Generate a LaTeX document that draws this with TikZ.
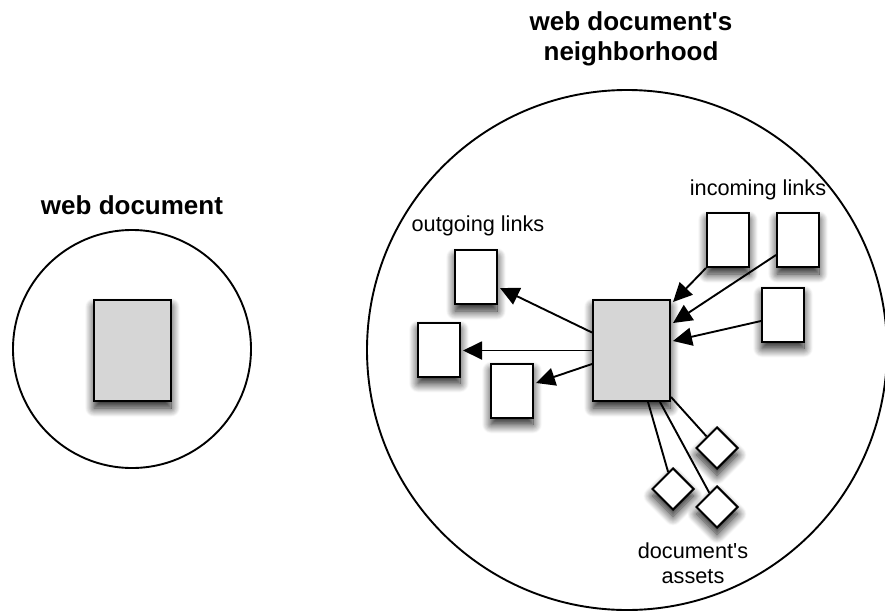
\documentclass[tikz,border=0pt]{standalone}
\usepackage{fontspec}
\newfontfamily\lsans{Liberation Sans}
\usetikzlibrary{shapes.geometric,shadows.blur,arrows.meta}
\definecolor{boxgray}{RGB}{214,214,214}
\begin{document}
\begin{tikzpicture}[x=1pt,y=-1pt,
  ring/.style={draw, circle, line width=1.9pt, inner sep=0pt},
  softshadow/.style={blur shadow={shadow xshift=0pt, shadow yshift=-7pt, shadow blur radius=9pt, shadow blur steps=14, shadow opacity=90}},
  page/.style={draw, line width=2pt, fill=white, minimum width=42pt, minimum height=54pt, inner sep=0pt, softshadow},
  mainpage/.style={page, fill=boxgray, minimum width=77pt, minimum height=101pt},
  asset/.style={draw, diamond, line width=2pt, fill=white, minimum width=42pt, minimum height=42pt, inner sep=0pt, softshadow},
  link/.style={line width=1.9pt, -{Triangle[length=19pt,width=18pt]}},
  tie/.style={line width=1.9pt},
  titletext/.style={font=\lsans\bfseries\fontsize{26}{30}\selectfont, align=center, inner sep=0pt},
  labeltext/.style={font=\lsans\fontsize{21.7}{25}\selectfont, align=center, inner sep=0pt}]
\useasboundingbox (0,0) rectangle (885,613);

% left: web document
\node[titletext] (t1) at (132,205) {web document};
\node[ring, minimum size=238pt] (c1) at (132,349) {};
\node[mainpage] (doc1) at (132.5,350.5) {};

% right: neighborhood
\node[titletext] (t2) at (631,39) {web document's\\neighborhood};
\node[ring, minimum size=520pt] (c2) at (627,350) {};

\node[labeltext] (lout) at (478,226) {outgoing links};
\node[labeltext] (lin) at (758,190) {incoming links};
\node[labeltext] (lass) at (693,563) {document's\\assets};

\node[page] (o1) at (476,277) {};
\node[page] (o2) at (439,349.5) {};
\node[page] (o3) at (512,390.5) {};

\node[page] (i1) at (728,240) {};
\node[page] (i2) at (798,240) {};
\node[page] (i3) at (783,314.5) {};

\node[asset] (a1) at (717,448) {};
\node[asset] (a2) at (673,489) {};
\node[asset] (a3) at (717,507) {};

\node[mainpage] (doc2) at (631.5,350.5) {};

% outgoing links
\draw[link] ([yshift=18pt]doc2.west) -- ([yshift=-11pt,xshift=2pt]o1.east);
\draw[link] (doc2.west) -- ([xshift=2pt]doc2.west -| o2.east);
\draw[link] ([yshift=-13.5pt]doc2.west) -- ([yshift=7.5pt,xshift=2pt]o3.east);

% incoming links
\draw[link] (i1.south west) -- ([xshift=2pt,yshift=-3pt]doc2.north east);
\draw[link] ([yshift=-15pt]i2.west) -- ([xshift=2pt,yshift=27.5pt]doc2.east);
\draw[link] ([yshift=-6.5pt]i3.west) -- ([xshift=2pt,yshift=9.5pt]doc2.east);

% assets
\draw[tie] ([xshift=16.5pt]doc2.south) -- (a2);
\draw[tie] ([xshift=28.5pt]doc2.south) -- (a3);
\draw[tie] ([yshift=5pt]doc2.south east) -- (a1);
\end{tikzpicture}
\end{document}
